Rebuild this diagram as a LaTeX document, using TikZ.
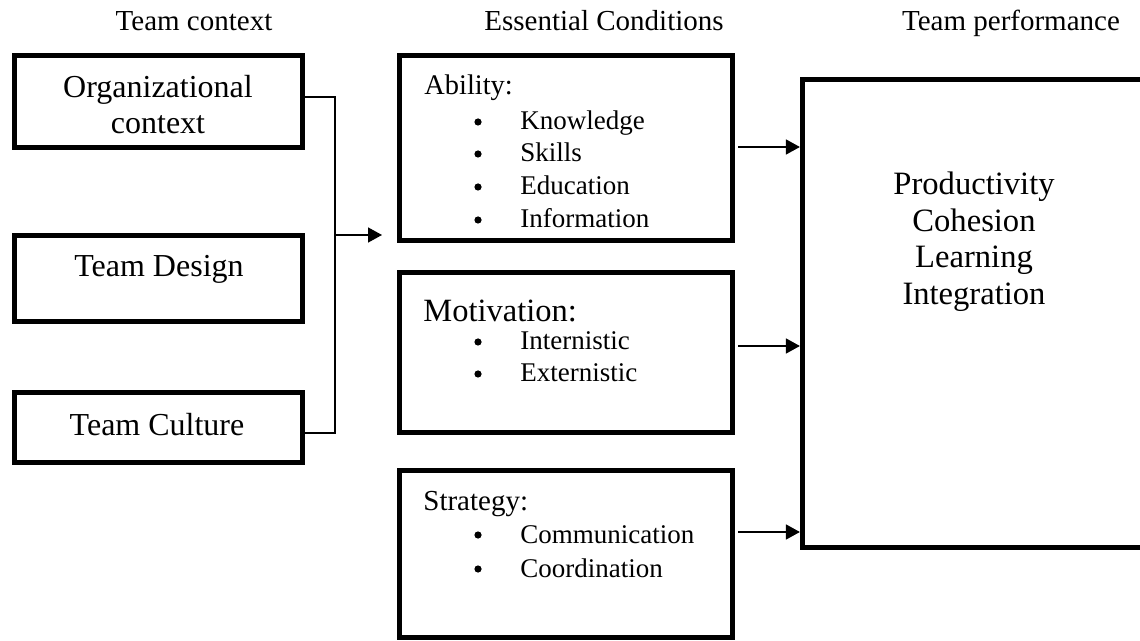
\documentclass[tikz,border=0pt]{standalone}
\usepackage{fontspec}
\setmainfont{Liberation Serif}
\usetikzlibrary{arrows.meta}

\begin{document}
\begin{tikzpicture}[x=0.5pt, y=-0.5pt, box/.style = {draw, rectangle, line width=2.6pt, inner sep=0pt}, big/.style = {font=\fontsize{16}{18}\selectfont, anchor=base, inner sep=0pt}, head/.style = {font=\fontsize{14.5}{17}\selectfont, anchor=base, inner sep=0pt}, sub/.style = {anchor=base west, inner sep=0pt}, item/.style = {font=\fontsize{13.5}{16}\selectfont, anchor=base west, inner sep=0pt}, dot/.style = {circle, fill, inner sep=0pt, minimum size=3.6pt}, link/.style = {line width=0.75pt}, arr/.style = {line width=0.75pt, -{Triangle[length=7pt, width=7.5pt]}}]
\useasboundingbox (0,0) rectangle (1140,641);
\clip (0,0) rectangle (1140,641);
% column titles
\node[head] (t0) at (194,31) {Team context};
\node[head] (t1) at (604,31) {Essential Conditions};
\node[head] (t2) at (1011,31) {Team performance};
% team context
\node[box, minimum width=144pt, minimum height=46pt] (0) at (158.5,101.5) {};
\node[box, minimum width=144pt, minimum height=43pt] (1) at (158.5,278.5) {};
\node[box, minimum width=144pt, minimum height=35pt] (2) at (158.5,427.5) {};
\node[big] (l0) at (158,98) {Organizational};
\node[big] (l1) at (158,134) {context};
\node[big] (l2) at (159,277) {Team Design};
\node[big] (l3) at (157,436) {Team Culture};
% essential conditions
\node[box, minimum width=166.5pt, minimum height=92.5pt] (3) at (566,148) {};
\node[box, minimum width=166.5pt, minimum height=80pt] (4) at (566,352.5) {};
\node[box, minimum width=166.5pt, minimum height=83.5pt] (5) at (566,554) {};
\node[sub, font=\fontsize{14.2}{17}\selectfont] (h0) at (424,95) {Ability:};
\node[dot] (d0) at (478,122) {};
\node[item] (i0) at (520,130) {Knowledge};
\node[dot] (d1) at (478,154) {};
\node[item] (i1) at (520,162) {Skills};
\node[dot] (d2) at (478,187) {};
\node[item] (i2) at (520,195) {Education};
\node[dot] (d3) at (478,220) {};
\node[item] (i3) at (520,228) {Information};
\node[sub, font=\fontsize{16.25}{19}\selectfont] (h1) at (423,322) {Motivation:};
\node[dot] (d4) at (478,342) {};
\node[item] (i4) at (520,350) {Internistic};
\node[dot] (d5) at (478,374) {};
\node[item] (i5) at (520,382) {Externistic};
\node[sub, font=\fontsize{14.5}{17}\selectfont] (h2) at (423,510) {Strategy:};
\node[dot] (d6) at (478,535) {};
\node[item] (i6) at (520,543) {Communication};
\node[dot] (d7) at (478,569) {};
\node[item] (i7) at (520,577) {Coordination};
% team performance
\node[box, minimum width=173.75pt, minimum height=234pt] (6) at (976.25,313.5) {};
\node[big, font=\fontsize{16.3}{18.5}\selectfont] (p0) at (974,195) {Productivity};
\node[big, font=\fontsize{16.3}{18.5}\selectfont] (p1) at (974,232) {Cohesion};
\node[big, font=\fontsize{16.3}{18.5}\selectfont] (p2) at (974,268) {Learning};
\node[big, font=\fontsize{16.3}{18.5}\selectfont] (p3) at (974,305) {Integration};
% connectors
\coordinate (j) at (335,235);
\coordinate (k) at (382,235);
\coordinate (a0) at (738,147);
\coordinate (a1) at (738,346);
\coordinate (a2) at (738,532);
\draw[link] ([yshift=2.25pt]0.east) -| (j) |- ([yshift=-2.75pt]2.east);
\draw[arr] (j) -- (k);
\draw[arr] (a0) -- (6.west |- a0);
\draw[arr] (a1) -- (6.west |- a1);
\draw[arr] (a2) -- (6.west |- a2);
\end{tikzpicture}
\end{document}
